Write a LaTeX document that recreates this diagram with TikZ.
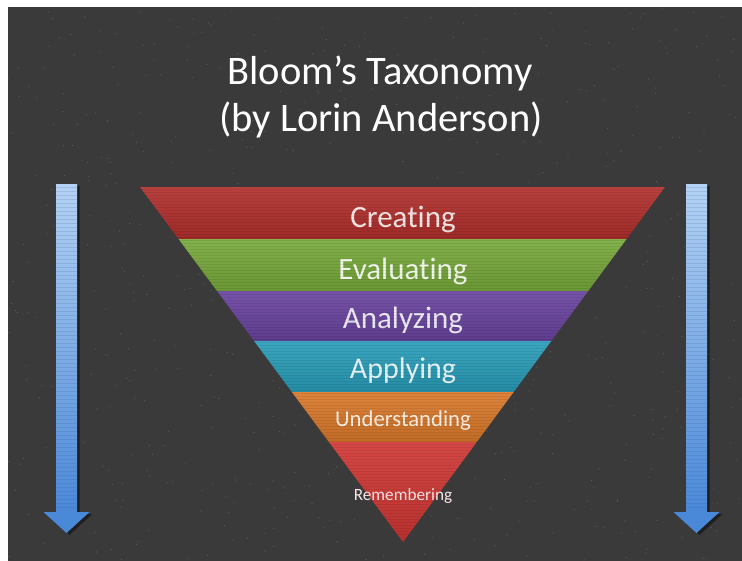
\documentclass[tikz,border=0pt]{standalone}
\usepackage{fontspec}
\setmainfont{Carlito}[Ligatures=NoCommon]
\usetikzlibrary{calc}

\definecolor{board}{HTML}{3A3A3A}
\definecolor{creating}{HTML}{B2302D}
\definecolor{evaluating}{HTML}{78AA3B}
\definecolor{analyzing}{HTML}{6A44A0}
\definecolor{applying}{HTML}{2A9EBA}
\definecolor{understanding}{HTML}{DA792B}
\definecolor{remembering}{HTML}{D03734}
\definecolor{arrowtop}{HTML}{B4D2F4}
\definecolor{arrowbot}{HTML}{4A88D8}

\begin{document}
\begin{tikzpicture}[x=1pt, y=-1pt,
    levellabel/.style={anchor=base, inner sep=0pt, text=#1!12!white},
    titletext/.style={anchor=base, inner sep=0pt, text=white, font=\fontsize{40.5}{40}\selectfont}]
  \useasboundingbox (0,0) rectangle (742,560);
  \fill[white] (0,0) rectangle (742,560);
  \fill[board] (8,7) rectangle (746,564);

  % chalk dust on the board
  \pgfmathsetseed{7}
  \foreach \i in {1,...,700}
    \fill[white, opacity=0.18] ({8+734*rnd},{7+553*rnd}) circle (0.6);

  \node[titletext] (title) at (380,84) {Bloom’s Taxonomy};
  \node[titletext] (author) at (381,131) {(by Lorin Anderson)};

  % inverted pyramid
  \coordinate (tl) at (140,187);
  \coordinate (tr) at (665,187);
  \coordinate (ap) at (403,542);
  \foreach \ta/\tb/\col/\nm/\txt/\sz/\yb in {
      0/0.1465/creating/create/Creating/31/227,
      0.1465/0.2930/evaluating/evaluate/Evaluating/31/279,
      0.2930/0.4338/analyzing/analyze/Analyzing/31/328,
      0.4338/0.5775/applying/apply/Applying/30/378,
      0.5775/0.7183/understanding/understand/Understanding/22.7/426,
      0.7183/1/remembering/remember/Remembering/17.2/500}
  {
    \shade[top color=\col!92!white, bottom color=\col!88!black]
      ($(tl)!\ta!(ap)$) -- ($(tr)!\ta!(ap)$) -- ($(tr)!\tb!(ap)$) -- ($(tl)!\tb!(ap)$) -- cycle;
    \node[levellabel=\col, font=\fontsize{\sz}{\sz}\selectfont] (\nm) at (403,\yb) {\txt};
  }
  \begin{scope}
    \clip (tl) -- (tr) -- (ap) -- cycle;
    \foreach \y in {189,192,...,542}
      \draw[black, opacity=0.07, line width=0.8] (140,\y) -- (665,\y);
  \end{scope}

  % blue arrows either side
  \foreach \x in {66.5,696.5} {
    \fill[black, opacity=0.45] (\x-8,186) rectangle (\x+13,514)
      (\x-20,514) -- (\x+26,514) -- (\x+3,535) -- cycle;
    \shade[top color=arrowtop, bottom color=arrowbot] (\x-10.5,184) rectangle (\x+10.5,512);
    \foreach \y in {187,191,...,510}
      \draw[arrowbot!60!black, opacity=0.15, line width=0.6] (\x-10.5,\y) -- (\x+10.5,\y);
    \fill[arrowbot] (\x-23,512) -- (\x+23,512) -- (\x,533) -- cycle;
  }
\end{tikzpicture}
\end{document}
